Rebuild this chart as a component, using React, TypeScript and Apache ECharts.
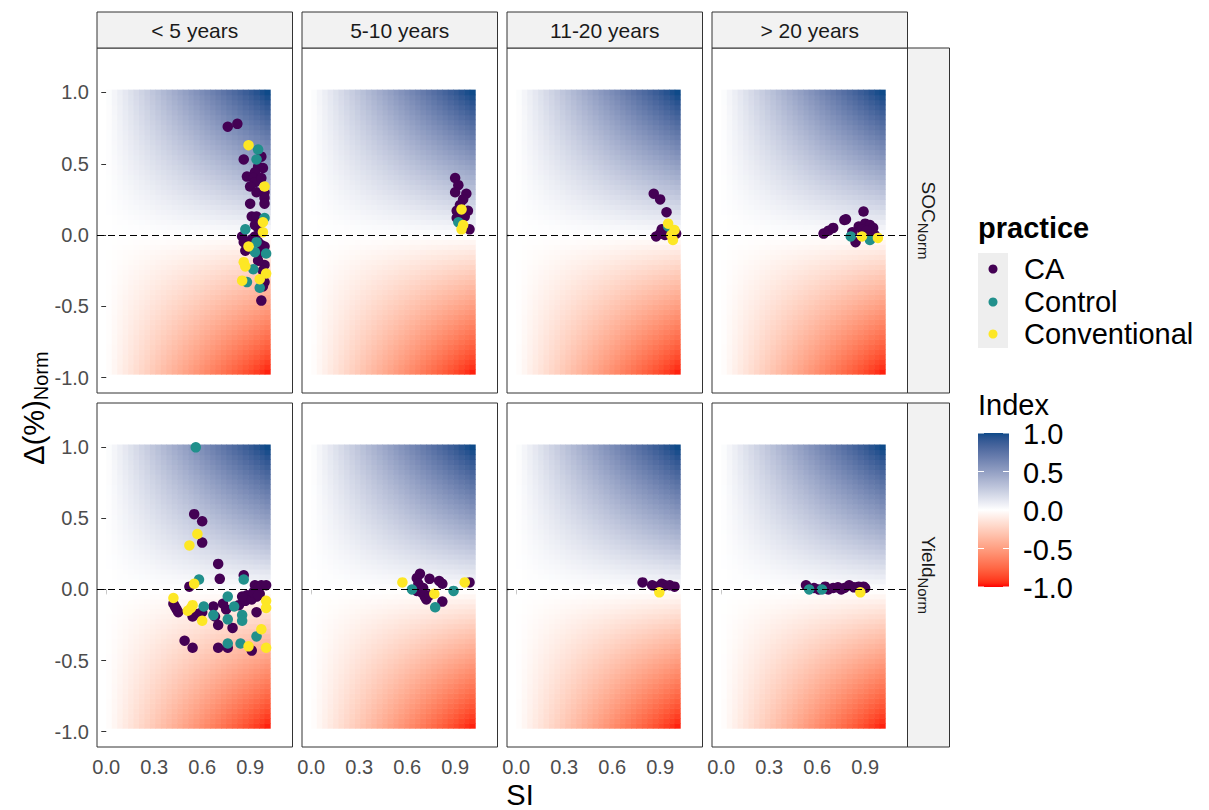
import React, { useEffect, useRef } from 'react';
import * as echarts from 'echarts';

const FONT = '"Liberation Sans", Arial, Helvetica, sans-serif';

// ---------- categories ----------
const periods = ['< 5 years', '5-10 years', '11-20 years', '> 20 years'];
const indicators = ['SOC', 'Yield'];
const practices = ['CA', 'Control', 'Conventional'];
const practiceColors = ['#440154', '#21908C', '#FDE725'];

// ---------- tick labels ----------
const xTicks = [0, 0.3, 0.6, 0.9];
const yTicks = [-1, -0.5, 0, 0.5, 1];
const indexTicks = [1, 0.5, 0, -0.5, -1];

// ---------- data: [SI, Δ(%)Norm] ----------
const socLt5CA = [[0.76,0.76],[0.82,0.78],[0.86,0.53],[0.97,0.55],[0.95,0.48],[0.98,0.47],[0.93,0.44],[0.88,0.41],[0.92,0.40],[0.93,0.37],[0.90,0.34],[0.99,0.30],[0.99,0.26],[0.99,0.22],[0.90,0.22],[0.91,0.13],[0.94,0.13],[0.93,0.07],[0.95,0.05],[0.85,-0.01],[0.86,-0.05],[0.93,-0.01],[0.95,-0.05],[0.97,-0.07],[0.99,-0.08],[0.87,-0.11],[0.97,-0.12],[0.99,-0.21],[0.98,-0.25],[0.99,-0.33],[0.97,-0.46],[0.96,0.02],[0.91,-0.03],[0.97,0.40],[0.94,0.30],[0.95,-0.18],[0.98,-0.36]];
const socLt5Control = [[0.95,0.60],[0.94,0.53],[0.99,0.12],[0.87,0.04],[0.93,-0.12],[1.0,-0.13],[0.92,-0.24],[0.88,-0.33],[0.96,-0.37],[0.94,-0.05]];
const socLt5Conv = [[0.89,0.63],[0.99,0.34],[0.98,0.09],[0.98,0.02],[0.89,-0.08],[0.86,-0.19],[0.87,-0.22],[1.0,-0.27],[0.85,-0.32],[0.96,-0.31]];

const soc5to10CA = [[0.90,0.40],[0.92,0.35],[0.90,0.30],[0.97,0.29],[0.95,0.25],[0.91,0.17],[0.98,0.17],[0.96,0.13],[0.91,0.12],[0.99,0.04],[0.93,0.21]];
const soc5to10Control = [[0.92,0.09]];
const soc5to10Conv = [[0.94,0.18],[0.95,0.07],[0.94,0.04]];

const soc11to20CA = [[0.86,0.29],[0.90,0.25],[0.94,0.16],[0.91,0.04],[0.875,-0.01],[0.90,0.01],[1.0,0.01],[0.96,0.02],[0.93,0.0]];
const soc11to20Control = [[0.95,0.06]];
const soc11to20Conv = [[0.95,0.08],[0.99,0.035],[0.98,-0.035],[0.97,0.0]];

const socGt20CA = [[0.64,0.01],[0.67,0.03],[0.70,0.05],[0.77,0.105],[0.78,0.11],[0.89,0.165],[0.86,0.06],[0.90,0.08],[0.93,0.07],[0.95,0.05],[0.96,0.0],[0.94,-0.02],[0.82,0.02],[0.84,-0.05],[0.88,0.04],[0.91,0.03]];
const socGt20Control = [[0.81,-0.01],[0.93,-0.035]];
const socGt20Conv = [[0.88,-0.01],[0.98,-0.02]];

const yieldLt5CA = [[0.55,0.53],[0.60,0.48],[0.60,0.33],[0.70,0.18],[0.71,0.075],[0.86,0.10],[0.52,0.02],[0.93,0.03],[0.95,0.01],[0.97,0.03],[1.0,0.03],[0.96,-0.03],[0.94,-0.05],[0.42,-0.10],[0.44,-0.14],[0.45,-0.16],[0.43,-0.12],[0.54,-0.19],[0.58,-0.17],[0.60,-0.16],[0.67,-0.12],[0.68,-0.19],[0.70,-0.25],[0.75,-0.14],[0.79,-0.27],[0.83,-0.11],[0.87,-0.08],[0.88,-0.04],[0.91,-0.07],[0.92,-0.02],[0.95,-0.04],[0.94,-0.16],[0.49,-0.36],[0.54,-0.41],[0.70,-0.41],[0.76,-0.41],[0.91,-0.43],[0.85,-0.05],[0.73,-0.10]];
const yieldLt5Control = [[0.56,1.0],[0.86,0.07],[0.58,0.07],[0.61,-0.12],[0.76,-0.05],[0.76,-0.21],[0.80,-0.12],[0.85,-0.18],[0.85,-0.22],[0.94,-0.33],[0.76,-0.38],[0.84,-0.38],[0.67,-0.18]];
const yieldLt5Conv = [[0.57,0.39],[0.52,0.31],[0.55,0.04],[0.42,-0.06],[0.51,-0.15],[0.53,-0.13],[0.54,-0.11],[0.60,-0.22],[1.0,-0.08],[1.0,-0.13],[0.97,-0.28],[0.89,-0.40],[1.0,-0.41]];

const yield5to10CA = [[0.68,0.11],[0.66,0.08],[0.67,0.04],[0.66,-0.01],[0.74,0.075],[0.80,0.06],[0.82,0.04],[0.69,-0.02],[0.71,-0.05],[0.72,-0.07],[0.74,-0.04],[0.82,-0.085],[0.99,0.05],[0.70,0.01]];
const yield5to10Control = [[0.775,-0.125],[0.89,-0.01],[0.63,0.0]];
const yield5to10Conv = [[0.57,0.05],[0.77,-0.03],[0.96,0.05]];

const yield11to20CA = [[0.79,0.05],[0.85,0.03],[0.88,0.02],[0.91,0.04],[0.93,0.03],[0.96,0.03],[0.99,0.02],[0.90,0.01]];
const yield11to20Control: number[][] = [];
const yield11to20Conv = [[0.895,-0.02]];

const yieldGt20CA = [[0.53,0.03],[0.58,0.01],[0.61,0.0],[0.65,0.02],[0.70,0.01],[0.73,0.015],[0.77,0.01],[0.80,0.03],[0.83,0.015],[0.86,0.02],[0.89,0.02],[0.90,0.01],[0.67,0.0],[0.75,0.0]];
const yieldGt20Control = [[0.55,0.0],[0.63,0.0]];
const yieldGt20Conv = [[0.87,-0.02]];

const panelData = [
  [
    [socLt5CA, socLt5Control, socLt5Conv],
    [soc5to10CA, soc5to10Control, soc5to10Conv],
    [soc11to20CA, soc11to20Control, soc11to20Conv],
    [socGt20CA, socGt20Control, socGt20Conv],
  ],
  [
    [yieldLt5CA, yieldLt5Control, yieldLt5Conv],
    [yield5to10CA, yield5to10Control, yield5to10Conv],
    [yield11to20CA, yield11to20Control, yield11to20Conv],
    [yieldGt20CA, yieldGt20Control, yieldGt20Conv],
  ],
];

// background Index surface (Index = SI x Δ), tile grid extents
const tileSiRange = [0, 1.025];
const tileSiCount = 30;
const tileDeltaRange = [-0.975, 1.02];
const tileDeltaCount = 57;

// ---------- colour scale (ggplot gradient2, Lab interpolation) ----------
const LOW = '#FF0000';
const HIGH = '#0E4A89';
function hexToRgb(h: string) {
  return [parseInt(h.slice(1, 3), 16), parseInt(h.slice(3, 5), 16), parseInt(h.slice(5, 7), 16)];
}
function toLin(c: number) { c /= 255; return c <= 0.04045 ? c / 12.92 : Math.pow((c + 0.055) / 1.055, 2.4); }
function fromLin(c: number) {
  const v = c <= 0.0031308 ? 12.92 * c : 1.055 * Math.pow(Math.max(c, 0), 1 / 2.4) - 0.055;
  return Math.round(Math.max(0, Math.min(1, v)) * 255);
}
const XN = 0.95047, YN = 1, ZN = 1.08883;
function labF(t: number) { return t > 0.008856 ? Math.cbrt(t) : 7.787 * t + 16 / 116; }
function labFi(t: number) { const t3 = t * t * t; return t3 > 0.008856 ? t3 : (t - 16 / 116) / 7.787; }
function rgbToLab(rgb: number[]) {
  const r = toLin(rgb[0]), g = toLin(rgb[1]), b = toLin(rgb[2]);
  const X = 0.4124 * r + 0.3576 * g + 0.1805 * b;
  const Y = 0.2126 * r + 0.7152 * g + 0.0722 * b;
  const Z = 0.0193 * r + 0.1192 * g + 0.9505 * b;
  const fx = labF(X / XN), fy = labF(Y / YN), fz = labF(Z / ZN);
  return [116 * fy - 16, 500 * (fx - fy), 200 * (fy - fz)];
}
function labToHex(lab: number[]) {
  const fy = (lab[0] + 16) / 116, fx = lab[1] / 500 + fy, fz = fy - lab[2] / 200;
  const X = XN * labFi(fx), Y = YN * labFi(fy), Z = ZN * labFi(fz);
  const r = 3.2406 * X - 1.5372 * Y - 0.4986 * Z;
  const g = -0.9689 * X + 1.8758 * Y + 0.0415 * Z;
  const b = 0.0557 * X - 0.204 * Y + 1.057 * Z;
  const hx = (n: number) => n.toString(16).padStart(2, '0');
  return '#' + hx(fromLin(r)) + hx(fromLin(g)) + hx(fromLin(b));
}
const labWhite = rgbToLab([255, 255, 255]);
const labLow = rgbToLab(hexToRgb(LOW));
const labHigh = rgbToLab(hexToRgb(HIGH));
function colorScale(v: number) {
  const t = Math.max(-1, Math.min(1, v));
  const end = t >= 0 ? labHigh : labLow;
  const a = Math.abs(t);
  return labToHex([0, 1, 2].map((k) => labWhite[k] + (end[k] - labWhite[k]) * a));
}

// ---------- layout ----------
const colLefts = [97, 302, 507, 712];
const colWidth = 195.5;
const rowTops = [48, 403];
const rowHeights = [345, 344];
const XMIN = -0.058, XMAX = 1.165;
const YMIN = -1.108, YMAX = 1.312;

function buildTiles() {
  const out: number[][] = [];
  const colors: string[] = [];
  const dx = (tileSiRange[1] - tileSiRange[0]) / tileSiCount;
  const dy = (tileDeltaRange[1] - tileDeltaRange[0]) / tileDeltaCount;
  for (let i = 0; i < tileSiCount; i++) {
    for (let j = 0; j < tileDeltaCount; j++) {
      const x0 = tileSiRange[0] + i * dx, x1 = x0 + dx;
      const y0 = tileDeltaRange[0] + j * dy, y1 = y0 + dy;
      const v = ((x0 + x1) / 2) * ((y0 + y1) / 2);
      out.push([x0, x1, y0, y1, v]);
      colors.push(colorScale(v));
    }
  }
  return { out, colors };
}

function buildOption() {
  const tiles = buildTiles();
  const grids: any[] = [], xAxes: any[] = [], yAxes: any[] = [], series: any[] = [];
  const fmt = (v: number) => v.toFixed(1);
  let gi = 0;
  for (let r = 0; r < 2; r++) {
    for (let c = 0; c < 4; c++) {
      const isBottom = r === 1, isLeft = c === 0;
      grids.push({ left: colLefts[c], top: rowTops[r], width: colWidth, height: rowHeights[r], show: true,
        borderColor: '#333333', borderWidth: 1, backgroundColor: '#ffffff' });
      xAxes.push({ gridIndex: gi, type: 'value', min: XMIN, max: XMAX, splitLine: { show: false },
        axisLine: { show: false },
        axisTick: { show: isBottom, length: 5, lineStyle: { color: '#333333' }, customValues: xTicks },
        axisLabel: { show: isBottom, customValues: xTicks, formatter: fmt, fontSize: 20, color: '#4D4D4D', fontFamily: FONT, margin: 10 } });
      yAxes.push({ gridIndex: gi, type: 'value', min: YMIN, max: YMAX, splitLine: { show: false },
        axisLine: { show: false },
        axisTick: { show: isLeft, length: 5, lineStyle: { color: '#333333' }, customValues: yTicks },
        axisLabel: { show: isLeft, customValues: yTicks, formatter: fmt, fontSize: 20, color: '#4D4D4D', fontFamily: FONT, margin: 8 } });
      series.push({
        type: 'custom', name: 'Index', xAxisIndex: gi, yAxisIndex: gi, z: 1, silent: true, clip: true,
        encode: { x: [0, 1], y: [2, 3] },
        data: tiles.out,
        renderItem: (params: any, api: any) => {
          const p0 = api.coord([api.value(0), api.value(3)]);
          const p1 = api.coord([api.value(1), api.value(2)]);
          return { type: 'rect', shape: { x: p0[0], y: p0[1], width: p1[0] - p0[0] + 0.6, height: p1[1] - p0[1] + 0.6 },
            style: { fill: tiles.colors[params.dataIndex] } };
        },
      });
      series.push({
        type: 'scatter', name: 'zero', xAxisIndex: gi, yAxisIndex: gi, z: 2, data: [], silent: true,
        markLine: { silent: true, symbol: ['none', 'none'], label: { show: false }, animation: false,
          lineStyle: { color: '#000000', type: [7, 4], width: 1.2 }, data: [{ yAxis: 0 }] },
      });
      for (let p = 0; p < 3; p++) {
        series.push({ type: 'scatter', name: practices[p], xAxisIndex: gi, yAxisIndex: gi, z: 3,
          symbol: 'circle', symbolSize: 10.5, itemStyle: { color: practiceColors[p], opacity: 1 },
          data: panelData[r][c][p] });
      }
      gi++;
    }
  }

  const g: any[] = [];
  // top strips
  for (let c = 0; c < 4; c++) {
    g.push({ type: 'rect', shape: { x: colLefts[c], y: 12, width: colWidth, height: 36 },
      style: { fill: '#F2F2F2', stroke: '#333333', lineWidth: 1 }, z: 10 });
    g.push({ type: 'text', x: colLefts[c] + colWidth / 2, y: 30, z: 11,
      style: { text: periods[c], fontSize: 21, fontFamily: FONT, fill: '#1A1A1A', align: 'center', verticalAlign: 'middle' } });
  }
  // right strips
  for (let r = 0; r < 2; r++) {
    g.push({ type: 'rect', shape: { x: colLefts[3] + colWidth, y: rowTops[r], width: 42, height: rowHeights[r] },
      style: { fill: '#F2F2F2', stroke: '#333333', lineWidth: 1 }, z: 10 });
    g.push({ type: 'text', x: colLefts[3] + colWidth + 21, y: rowTops[r] + rowHeights[r] / 2, rotation: -Math.PI / 2, z: 11,
      style: { text: '{a|' + indicators[r] + '}{b|Norm}', align: 'center', verticalAlign: 'middle',
        rich: { a: { fontSize: 19, fontFamily: FONT, fill: '#1A1A1A' },
                b: { fontSize: 15, fontFamily: FONT, fill: '#1A1A1A', padding: [11, 0, 0, 0] } } } });
  }
  // axis titles
  g.push({ type: 'text', x: 520, y: 795, z: 11,
    style: { text: 'SI', fontSize: 29, fontFamily: FONT, fill: '#000', align: 'center', verticalAlign: 'middle' } });
  g.push({ type: 'text', x: 34, y: 408, rotation: Math.PI / 2, z: 11,
    style: { text: '{a|Δ(%)}{b|Norm}', align: 'center', verticalAlign: 'middle',
      rich: { a: { fontSize: 29, fontFamily: FONT, fill: '#000' },
              b: { fontSize: 20, fontFamily: FONT, fill: '#000', padding: [14, 0, 0, 0] } } } });
  // practice legend
  g.push({ type: 'text', x: 978, y: 228, z: 11,
    style: { text: 'practice', fontSize: 29, fontWeight: 'bold', fontFamily: FONT, fill: '#000', align: 'left', verticalAlign: 'middle' } });
  g.push({ type: 'rect', shape: { x: 978, y: 253, width: 30, height: 95 }, style: { fill: '#EEEEEE' }, z: 10 });
  const legY = [269, 302, 334];
  for (let p = 0; p < 3; p++) {
    g.push({ type: 'circle', shape: { cx: 993, cy: legY[p], r: 4.5 }, style: { fill: practiceColors[p] }, z: 11 });
    g.push({ type: 'text', x: 1024, y: legY[p], z: 11,
      style: { text: practices[p], fontSize: 29, fontFamily: FONT, fill: '#000', align: 'left', verticalAlign: 'middle' } });
  }
  // Index colourbar
  g.push({ type: 'text', x: 978, y: 405, z: 11,
    style: { text: 'Index', fontSize: 29, fontFamily: FONT, fill: '#000', align: 'left', verticalAlign: 'middle' } });
  const cbTop = 433, cbH = 154, cbX = 978, cbW = 31;
  const stops: any[] = [];
  for (let k = 0; k <= 40; k++) {
    const t = k / 40;
    stops.push({ offset: t, color: colorScale(1 - 2 * t) });
  }
  g.push({ type: 'rect', shape: { x: cbX, y: cbTop, width: cbW, height: cbH }, z: 10,
    style: { fill: new echarts.graphic.LinearGradient(0, 0, 0, 1, stops) } });
  for (const v of indexTicks) {
    const yy = cbTop + ((1 - v) / 2) * cbH;
    g.push({ type: 'line', shape: { x1: cbX, y1: yy, x2: cbX + 6, y2: yy }, style: { stroke: '#FFFFFF', lineWidth: 1 }, z: 11 });
    g.push({ type: 'line', shape: { x1: cbX + cbW - 6, y1: yy, x2: cbX + cbW, y2: yy }, style: { stroke: '#FFFFFF', lineWidth: 1 }, z: 11 });
    g.push({ type: 'text', x: 1023, y: yy + 1, z: 11,
      style: { text: v.toFixed(1), fontSize: 29, fontFamily: FONT, fill: '#000', align: 'left', verticalAlign: 'middle' } });
  }

  return { animation: false, backgroundColor: '#ffffff', grid: grids, xAxis: xAxes, yAxis: yAxes, series, graphic: g };
}

export default function App() {
  const ref = useRef<HTMLDivElement>(null);
  useEffect(() => {
    const chart = echarts.init(ref.current!, null, { renderer: 'svg' });
    chart.setOption(buildOption() as any);
    return () => chart.dispose();
  }, []);
  return <div ref={ref} style={{ position: 'fixed', left: 0, top: 0, width: 1209, height: 810, background: '#fff' }} />;
}
